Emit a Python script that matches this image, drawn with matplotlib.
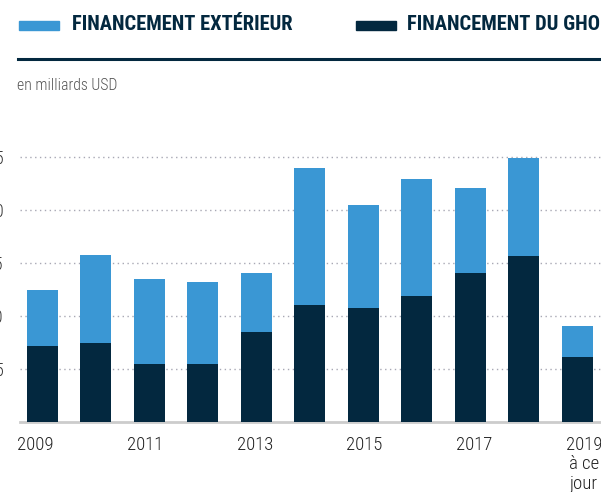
import matplotlib
matplotlib.use("Agg")
import matplotlib.pyplot as plt
from matplotlib.patches import Rectangle
from matplotlib.lines import Line2D

# data (en milliards USD)
years = ["2009", "2010", "2011", "2012", "2013", "2014", "2015", "2016", "2017", "2018", "2019\nà ce\njour"]
gho = [7.2, 7.5, 5.5, 5.5, 8.5, 11.0, 10.8, 11.9, 14.1, 15.7, 6.1]
exterieur = [5.3, 8.3, 8.0, 7.7, 5.6, 13.0, 9.7, 11.0, 8.0, 9.2, 3.0]
yticks = [5, 10, 15, 20, 25]

blue = "#3a97d4"
dark = "#03283f"
W, H = 601, 492

bold_fam = ["Roboto Condensed", "Liberation Sans Narrow", "Roboto"]
light_fam = ["Roboto Condensed", "Liberation Sans Narrow", "Roboto"]

fig = plt.figure(figsize=(W / 100, H / 100), dpi=100)
ax = fig.add_axes([20 / W, 70 / H, (W - 20) / W, 286 / H])

x = list(range(len(years)))
ax.bar(x, gho, width=0.58, color=dark, zorder=3)
ax.bar(x, exterieur, width=0.58, bottom=gho, color=blue, zorder=3)

ax.set_xlim(-0.42, 10.44)
ax.set_ylim(0, 27)
ax.set_yticks(yticks)
ax.set_yticklabels([str(v) for v in yticks], family=light_fam, fontweight="light",
                   fontsize=13, color="#333333")

# year labels sit on a slightly wider spacing than the bars in the original
label_pos = [i * 1.025 - 0.13 for i in x]
ax.set_xticks(label_pos)
ax.set_xticklabels([y if i % 2 == 0 else "" for i, y in enumerate(years)],
                   family=light_fam, fontweight="light", fontsize=13.5,
                   color="#222222", linespacing=1.1)
ax.tick_params(axis="y", length=0, pad=12)
ax.tick_params(axis="x", length=0, pad=10)

ax.grid(axis="y", color="#a8a8b4", linewidth=1, linestyle=(0, (1, 2.5)), zorder=0)
ax.set_axisbelow(True)
for side in ["left", "right", "top"]:
    ax.spines[side].set_visible(False)
ax.spines["bottom"].set_color("#cccccc")
ax.spines["bottom"].set_linewidth(2)

# legend at top
fig.add_artist(Rectangle((19 / W, 1 - 30 / H), 40 / W, 9 / H, transform=fig.transFigure,
                         color=blue))
fig.text(72 / W, 1 - 25 / H, "FINANCEMENT EXTÉRIEUR", family=bold_fam, fontweight="bold",
         fontsize=14.8, color=dark, va="center", ha="left")
fig.add_artist(Rectangle((356 / W, 1 - 30 / H), 40 / W, 9 / H, transform=fig.transFigure,
                         color=dark))
fig.text(407 / W, 1 - 25 / H, "FINANCEMENT DU GHO", family=bold_fam, fontweight="bold",
         fontsize=14.8, color=dark, va="center", ha="left")

fig.add_artist(Line2D([18 / W, 1], [1 - 58.5 / H, 1 - 58.5 / H], transform=fig.transFigure,
                      color=dark, linewidth=2.2))

fig.text(17 / W, 1 - 86 / H, "en milliards USD", family=light_fam, fontweight="light",
         fontsize=11.3, color="#555555", va="center", ha="left")

fig.savefig("out.png", dpi=100)
